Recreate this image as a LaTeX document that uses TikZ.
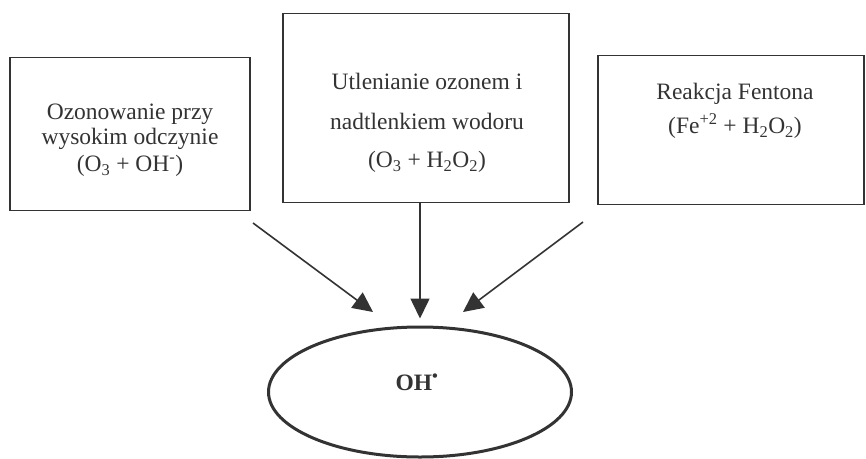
\documentclass[tikz,border=0pt]{standalone}
\usepackage{fontspec}
\setmainfont{Liberation Serif}
\usetikzlibrary{arrows.meta,positioning,shapes.geometric}
\definecolor{ink}{HTML}{333333}
\tikzset{
  box/.style={draw=ink, line width=1.9pt, inner sep=0pt},
  txt/.style={text=ink, align=center, inner sep=0pt, font={\fontsize{23.5}{25}\selectfont}},
  arr/.style={draw=ink, line width=1.6pt, -{Triangle[length=20pt,width=19pt]}},
}
\begin{document}
\begin{tikzpicture}[x=1pt, y=-1pt]
		\useasboundingbox (0,0) rectangle (866,458);
		
		% boxes
		\node[box, minimum width=240pt, minimum height=153pt] (ozon) at (130,134) {};
		\node[box, minimum width=286pt, minimum height=189pt] (utl) at (426,108) {};
		\node[box, minimum width=266pt, minimum height=149pt] (fent) at (731,130) {};
		
		% texts
		\node[txt] (ozontxt) at (130,140) {Ozonowanie przy\\wysokim odczynie\\[2pt](O\textsubscript{3} + OH\textsuperscript{-})};
		\node[txt] (utltxt) at (427,123) {Utlenianie ozonem i\\[15pt]nadtlenkiem wodoru\\[13pt](O\textsubscript{3} + H\textsubscript{2}O\textsubscript{2})};
		\node[txt] (fenttxt) at (735,111) {Reakcja Fentona\\[9pt](Fe\textsuperscript{+2} + H\textsubscript{2}O\textsubscript{2})};
		
		% product
		\node[draw=ink, line width=3pt, ellipse, minimum width=303pt, minimum height=130pt, inner sep=0pt] (oh) at (420,392) {};
		\node[txt] (ohtxt) at (417,382) {\textbf{OH\textsuperscript{•}}};
		
		% arrows
		\coordinate (ozon0) at (253,223);
		\coordinate (ozon1) at (373,312);
		\coordinate (fent0) at (583,222);
		\coordinate (fent1) at (463,312);
		\draw[arr] (ozon0) -- (ozon1);
		\draw[arr] (fent0) -- (fent1);
		\draw[arr, shorten >=7pt] (utl.south -| oh.north) -- (oh.north);
		
	\end{tikzpicture}
\end{document}
